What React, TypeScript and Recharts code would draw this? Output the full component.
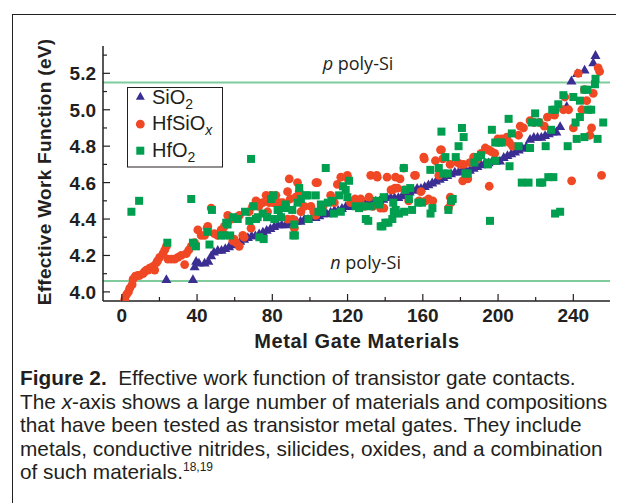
import React from 'react';
import { ScatterChart, Scatter, XAxis, YAxis, ReferenceLine, Legend } from 'recharts';

// work function (eV) vs material index
const sio2Points: [number, number][] = [
  [23.7, 4.07], [37.8, 4.07], [38.7, 4.14], [39.5, 4.17], [41, 4.16], [44, 4.16], [46, 4.17],
  [47.5, 4.2], [49, 4.22], [51, 4.23], [53, 4.23], [55, 4.24], [57, 4.25], [59, 4.26], [61, 4.27],
  [63, 4.28], [65, 4.29], [67, 4.3], [69, 4.31], [71, 4.31], [73, 4.32], [75, 4.33], [77, 4.34],
  [79, 4.35], [81, 4.36], [83, 4.37], [85, 4.37], [87, 4.37], [89, 4.38], [91, 4.38], [93, 4.39],
  [95, 4.39], [97, 4.4], [99, 4.4], [101, 4.41], [103, 4.41], [105, 4.42], [107, 4.43], [109, 4.43],
  [111, 4.44], [113, 4.45], [115, 4.45], [117, 4.46], [119, 4.47], [121, 4.47], [123, 4.48],
  [125, 4.48], [127, 4.48], [129, 4.49], [131, 4.49], [133, 4.49], [135, 4.5], [137, 4.5],
  [139, 4.51], [141, 4.52], [143, 4.52], [145, 4.52], [147, 4.52], [149, 4.53], [151, 4.54],
  [153, 4.55], [155, 4.56], [157, 4.57], [159, 4.57], [161, 4.58], [163, 4.59], [165, 4.6],
  [167, 4.61], [169, 4.62], [171, 4.63], [173, 4.64], [175, 4.65], [177, 4.66], [179, 4.66],
  [181, 4.67], [183, 4.67], [185, 4.67], [187, 4.68], [189, 4.69], [191, 4.7], [193, 4.71],
  [195, 4.71], [197, 4.72], [199, 4.72], [201, 4.72], [203, 4.74], [205, 4.75], [207, 4.76],
  [209, 4.77], [211, 4.78], [213, 4.79], [215, 4.8], [217, 4.84], [219, 4.85], [221, 4.85],
  [223, 4.85], [225, 4.86], [227, 4.87], [229, 4.88], [231, 4.88], [233, 4.91], [236.5, 5.02],
  [239, 5.16], [242, 5.2], [246, 5.22], [250.6, 5.26], [251.8, 5.3],
];

const hfsioxPoints: [number, number][] = [
  [1.6, 3.96], [2.5, 3.985], [3.5, 4.0], [4.2, 4.02], [5.5, 4.04], [6, 4.07], [7.2, 4.086],
  [8.5, 4.09], [9.5, 4.09], [11.3, 4.1], [12, 4.11], [13, 4.12], [14, 4.12], [14.8, 4.13],
  [16.6, 4.14], [17.5, 4.12], [18.4, 4.16], [19, 4.17], [20.1, 4.19], [21.9, 4.21], [22.8, 4.23],
  [23.7, 4.25], [24.5, 4.18], [26.3, 4.18], [28.1, 4.18], [29.8, 4.19], [31.6, 4.2], [33.4, 4.15],
  [34.3, 4.21], [35.6, 4.23], [36.9, 4.25], [38.7, 4.27], [40.4, 4.34], [42.2, 4.31], [44, 4.31],
  [45.3, 4.35], [45.7, 4.36], [47.5, 4.46], [49.2, 4.32], [50.9, 4.31], [52.8, 4.34], [53.6, 4.33],
  [54.5, 4.36], [56.2, 4.38], [56.3, 4.42], [58.1, 4.4], [59, 4.28], [59.7, 4.29], [60.8, 4.27],
  [62.4, 4.25], [62.5, 4.42], [64.3, 4.31], [65, 4.3], [67.7, 4.44], [68.7, 4.35], [69.5, 4.47],
  [71.3, 4.5], [72.2, 4.49], [72.9, 4.47], [74.9, 4.49], [76.7, 4.53], [77.5, 4.44], [78.4, 4.49],
  [79.3, 4.53], [80.5, 4.49], [81.1, 4.49], [81.9, 4.53], [83.7, 4.49], [85.5, 4.49], [86.5, 4.47],
  [88.1, 4.4], [88.1, 4.55], [89, 4.62], [89.5, 4.51], [90.8, 4.4], [91.7, 4.39], [91.7, 4.35],
  [92.5, 4.52], [93.4, 4.6], [94.3, 4.55], [95.2, 4.44], [97, 4.47], [100.5, 4.47], [102, 4.44],
  [103.1, 4.42], [103.2, 4.6], [104, 4.6], [107, 4.47], [111, 4.53], [113, 4.49], [114.6, 4.59],
  [116.4, 4.63], [119.9, 4.64], [120.2, 4.62], [121.6, 4.49], [124, 4.51], [127, 4.51], [129, 4.47],
  [131.4, 4.52], [132.3, 4.64], [133.4, 4.47], [135.5, 4.64], [135.8, 4.63], [137.5, 4.46],
  [139.3, 4.46], [141, 4.63], [143.1, 4.56], [143.8, 4.56], [145.2, 4.57], [145.5, 4.63],
  [146.5, 4.57], [147.9, 4.62], [149.9, 4.68], [150.2, 4.56], [152.5, 4.5], [155.6, 4.64],
  [156.1, 4.64], [158, 4.5], [159, 4.55], [160.5, 4.74], [160.8, 4.73], [161.4, 4.5], [163, 4.51],
  [165.3, 4.5], [166.7, 4.72], [168.5, 4.64], [169.4, 4.78], [169.9, 4.78], [170.6, 4.73],
  [173.6, 4.46], [174.5, 4.7], [174.6, 4.52], [175, 4.49], [178.5, 4.71], [180, 4.7], [181.2, 4.61],
  [181.7, 4.7], [183.9, 4.62], [185, 4.71], [187, 4.74], [189, 4.73], [191, 4.76], [193.2, 4.79],
  [194.5, 4.78], [195, 4.78], [195.3, 4.58], [196.5, 4.77], [198.2, 4.76], [199.9, 4.84],
  [202, 4.84], [204.7, 4.85], [206, 4.82], [207.7, 4.8], [210.9, 4.86], [211.8, 4.91], [213.5, 4.9],
  [217, 4.94], [219, 4.93], [222, 4.93], [224.6, 4.91], [226.2, 4.96], [230, 4.97], [234.7, 5.0],
  [235.5, 5.07], [237.5, 5.0], [239.1, 4.61], [240, 4.9], [242.6, 5.2], [244.5, 5.0], [245.9, 5.11],
  [247.1, 5.05], [248.8, 4.86], [249.7, 4.9], [250.6, 5.09], [253.2, 5.23], [254, 5.21], [255, 4.64],
];

const hfo2Points: [number, number][] = [
  [5.1, 4.44], [9.2, 4.5], [24.2, 4.27], [36.9, 4.51], [37.8, 4.27], [39.4, 4.25], [45.7, 4.33],
  [46.6, 4.26], [47.9, 4.45], [52.8, 4.31], [54.5, 4.31], [55.5, 4.38], [56.2, 4.37], [57.6, 4.31],
  [59, 4.41], [61.6, 4.4], [65.5, 4.44], [67.8, 4.39], [68.7, 4.73], [69.9, 4.47], [71.3, 4.4],
  [72.2, 4.41], [73.1, 4.3], [74.9, 4.43], [75.4, 4.29], [77.2, 4.41], [79.3, 4.51], [80.5, 4.53],
  [81.1, 4.4], [82.8, 4.45], [83.4, 4.45], [84.6, 4.41], [87, 4.46], [87.2, 4.48], [90.6, 4.45],
  [91.2, 4.31], [91.7, 4.37], [92, 4.31], [93.4, 4.49], [94.3, 4.57], [95.2, 4.51], [97.9, 4.53],
  [98.8, 4.53], [99.2, 4.4], [103.1, 4.53], [104.5, 4.44], [105.8, 4.48], [106.6, 4.44],
  [108.4, 4.68], [109.5, 4.49], [111.8, 4.5], [112.7, 4.43], [115.5, 4.53], [116.4, 4.44],
  [117.6, 4.58], [119, 4.56], [119.9, 4.52], [120.8, 4.61], [124.3, 4.47], [126.1, 4.46],
  [128.5, 4.47], [129.7, 4.4], [131, 4.39], [132.3, 4.47], [135.5, 4.5], [136.7, 4.48],
  [137.6, 4.36], [138.5, 4.36], [139.2, 4.52], [140.1, 4.38], [141.7, 4.38], [143.8, 4.4],
  [144.3, 4.49], [144.6, 4.44], [145.6, 4.45], [147.3, 4.43], [149.9, 4.68], [150.1, 4.44],
  [150.8, 4.56], [152.6, 4.51], [153.3, 4.57], [154.3, 4.45], [157.6, 4.49], [159.6, 4.49],
  [164, 4.67], [164.1, 4.43], [165.1, 4.46], [168.5, 4.68], [169.9, 4.88], [171.1, 4.65],
  [172, 4.74], [173.2, 4.65], [173.6, 4.45], [175, 4.5], [175.9, 4.51], [177.5, 4.74], [179, 4.8],
  [180.8, 4.9], [181.7, 4.85], [182.6, 4.65], [183.9, 4.65], [187.4, 4.71], [189.3, 4.74],
  [190.9, 4.75], [194.5, 4.71], [194.6, 4.7], [195.7, 4.39], [196.7, 4.89], [198.5, 4.82],
  [198.5, 4.72], [200.5, 4.82], [202, 4.82], [205.6, 4.95], [206.1, 4.69], [207.3, 4.87],
  [210.9, 4.8], [212.6, 4.6], [216.2, 4.6], [217, 4.79], [217.9, 4.93], [219.7, 4.98],
  [221.5, 4.93], [222.3, 4.6], [223.5, 4.6], [225.3, 4.8], [226.7, 4.63], [228.2, 4.89],
  [228.8, 5.0], [229.4, 4.63], [230.3, 5.0], [230.3, 4.43], [232, 5.03], [233, 4.44], [234.7, 5.08],
  [237, 4.8], [240, 5.07], [241.2, 4.93], [241.8, 4.84], [243.5, 5.05], [243.5, 4.96], [245.9, 5.11],
  [245.9, 4.85], [247.5, 5.11], [247.9, 5.0], [249.5, 5.0], [251.5, 5.14], [251.8, 5.17],
  [252.9, 4.84], [255.9, 4.93],
];

const xTicks = [0, 20, 40, 60, 80, 100, 120, 140, 160, 180, 200, 220, 240];
const yTicks = [4.0, 4.1, 4.2, 4.3, 4.4, 4.5, 4.6, 4.7, 4.8, 4.9, 5.0, 5.1, 5.2, 5.3];
const pPolySi = 5.15;
const nPolySi = 4.06;

const toRows = (pts: [number, number][]) => pts.map(([x, y]) => ({ x, y }));

const INK = '#231f20';
const BLUE = '#3a2e93';
const RED = '#f04824';
const GREEN = '#009e4f';
const REF = '#7fcb9c';
const SANS = '"Liberation Sans", Arial, Helvetica, sans-serif';
const tickFont = { fontFamily: SANS, fontWeight: 700, fontSize: 19, fill: INK };

const BottomTick = (p: any) => {
  const major = p.index % 2 === 0;
  return (
    <g>
      <line x1={p.x} x2={p.x} y1={p.y} y2={p.y - (major ? 7 : 4)} stroke={INK} strokeWidth={1.2} />
      {major && (
        <text x={p.x} y={p.y + 21} textAnchor="middle" style={tickFont}>
          {p.payload.value}
        </text>
      )}
    </g>
  );
};

const TopTick = (p: any) => {
  const major = p.index % 2 === 0;
  return <line x1={p.x} x2={p.x} y1={p.y} y2={p.y + (major ? 7 : 4)} stroke={INK} strokeWidth={1.2} />;
};

const LeftTick = (p: any) => {
  const major = p.index % 2 === 0;
  return (
    <g>
      <line x1={p.x} x2={p.x + (major ? 7 : 4)} y1={p.y} y2={p.y} stroke={INK} strokeWidth={1.2} />
      {major && (
        <text x={p.x - 7} y={p.y + 7} textAnchor="end" style={tickFont}>
          {Number(p.payload.value).toFixed(1)}
        </text>
      )}
    </g>
  );
};

const RightTick = (p: any) => {
  const major = p.index % 2 === 0;
  return <line x1={p.x} x2={p.x - (major ? 7 : 4)} y1={p.y} y2={p.y} stroke={INK} strokeWidth={1.2} />;
};

const Triangle = (p: any) => (
  <polygon
    points={`${p.cx},${p.cy - 5} ${p.cx - 5},${p.cy + 3.8} ${p.cx + 5},${p.cy + 3.8}`}
    fill={BLUE}
  />
);
const Dot = (p: any) => <circle cx={p.cx} cy={p.cy} r={4.4} fill={RED} />;
const Square = (p: any) => <rect x={p.cx - 4} y={p.cy - 4} width={8} height={8} fill={GREEN} />;

const refLabel = (letter: string, frac: number) => (props: any) => {
  const vb = props.viewBox || { x: 95, y: 0, width: 507 };
  return (
    <text
      x={vb.x + vb.width * frac}
      y={vb.y - 12}
      textAnchor="middle"
      style={{ fontFamily: '"Open Sans", sans-serif', fontSize: 18, fill: INK }}
    >
      <tspan fontStyle="italic">{letter}</tspan> poly-Si
    </text>
  );
};

const legendText = { fontFamily: SANS, fontSize: 20, fill: INK };
const subText = { fontFamily: SANS, fontSize: 14, fill: INK };

const LegendBox = () => (
  <svg width={96} height={81} style={{ display: 'block' }}>
    <rect x={0.5} y={0.5} width={95} height={79.5} fill="#fff" stroke={INK} strokeWidth={1} />
    <polygon points="13.3,4.7 8.8,12.7 17.8,12.7" fill={BLUE} />
    <text x={25} y={16.7} style={legendText}>
      SiO<tspan dy={5} style={subText}>2</tspan>
    </text>
    <circle cx={13.3} cy={37.2} r={4.4} fill={RED} />
    <text x={25} y={43.4} style={legendText}>
      HfSiO<tspan dy={5} style={{ ...subText, fontStyle: 'italic' }}>x</tspan>
    </text>
    <rect x={9.3} y={59.7} width={8} height={8} fill={GREEN} />
    <text x={25} y={70} style={legendText}>
      HfO<tspan dy={5} style={subText}>2</tspan>
    </text>
  </svg>
);

export default function App() {
  const axisLine = { stroke: INK, strokeWidth: 1.5 };
  return (
    <div style={{ position: 'relative', width: 616, height: 495, overflow: 'hidden', background: '#fff' }}>
      <div
        style={{ position: 'absolute', left: 4, top: 6, width: 700, height: 700, border: `1px solid ${INK}` }}
      />
      <div style={{ position: 'absolute', left: 0, top: 0 }}>
        <ScatterChart width={616} height={350} margin={{ top: 38, right: 14, bottom: 0, left: 0 }}>
          <XAxis
            xAxisId="b"
            type="number"
            dataKey="x"
            domain={[-10, 259.5]}
            allowDataOverflow
            ticks={xTicks}
            interval={0}
            height={57}
            tickSize={0}
            tickMargin={0}
            tickLine={false}
            axisLine={axisLine}
            tick={BottomTick}
          />
          <XAxis
            xAxisId="t"
            orientation="top"
            type="number"
            domain={[-10, 259.5]}
            allowDataOverflow
            ticks={xTicks}
            interval={0}
            height={0}
            tickSize={0}
            tickMargin={0}
            tickLine={false}
            axisLine={axisLine}
            tick={TopTick}
          />
          <YAxis
            yAxisId="l"
            type="number"
            dataKey="y"
            domain={[3.95, 5.35]}
            allowDataOverflow
            ticks={yTicks}
            interval={0}
            width={95}
            tickSize={0}
            tickMargin={0}
            tickLine={false}
            axisLine={axisLine}
            tick={LeftTick}
          />
          <YAxis
            yAxisId="r"
            orientation="right"
            type="number"
            domain={[3.95, 5.35]}
            allowDataOverflow
            ticks={yTicks}
            interval={0}
            width={0}
            tickSize={0}
            tickMargin={0}
            tickLine={false}
            axisLine={axisLine}
            tick={RightTick}
          />
          <ReferenceLine xAxisId="b" yAxisId="l" y={pPolySi} stroke={REF} strokeWidth={2} label={refLabel('p', 0.503)} />
          <ReferenceLine xAxisId="b" yAxisId="l" y={nPolySi} stroke={REF} strokeWidth={2} label={refLabel('n', 0.518)} />
          <Scatter xAxisId="b" yAxisId="l" name="SiO2" data={toRows(sio2Points)} shape={Triangle} isAnimationActive={false} />
          <Scatter xAxisId="b" yAxisId="l" name="HfSiOx" data={toRows(hfsioxPoints)} shape={Dot} isAnimationActive={false} />
          <Scatter xAxisId="b" yAxisId="l" name="HfO2" data={toRows(hfo2Points)} shape={Square} isAnimationActive={false} />
          <Legend
            layout="vertical"
            align="center"
            verticalAlign="middle"
            content={LegendBox}
            wrapperStyle={{ left: 118.7, top: 79.3, width: 96, height: 81 }}
          />
        </ScatterChart>
      </div>
      <svg width={616} height={350} style={{ position: 'absolute', left: 0, top: 0, pointerEvents: 'none' }}>
        <text
          x={36}
          y={164}
          transform="rotate(-90 36 164)"
          textAnchor="middle"
          dominantBaseline="central"
          style={{ fontFamily: SANS, fontWeight: 700, fontSize: 19, letterSpacing: 0.3, fill: INK }}
        >
          Effective Work Function (eV)
        </text>
        <text
          x={349}
          y={340}
          textAnchor="middle"
          style={{ fontFamily: SANS, fontWeight: 700, fontSize: 20, letterSpacing: 0.6, fill: INK }}
        >
          Metal Gate Materials
        </text>
      </svg>
      <div
        style={{
          position: 'absolute',
          left: 12,
          top: 358,
          fontFamily: SANS,
          fontSize: 20.8,
          lineHeight: '23.6px',
          color: INK,
          whiteSpace: 'pre',
        }}
      >
        <div>
          <b>Figure 2.</b>  Effective work function of transistor gate contacts.
        </div>
        <div>
          The <i>x</i>-axis shows a large number of materials and compositions
        </div>
        <div>that have been tested as transistor metal gates. They include</div>
        <div>metals, conductive nitrides, silicides, oxides, and a combination</div>
        <div>
          of such materials.<sup style={{ fontSize: 12, lineHeight: 0 }}>18,19</sup>
        </div>
      </div>
    </div>
  );
}
